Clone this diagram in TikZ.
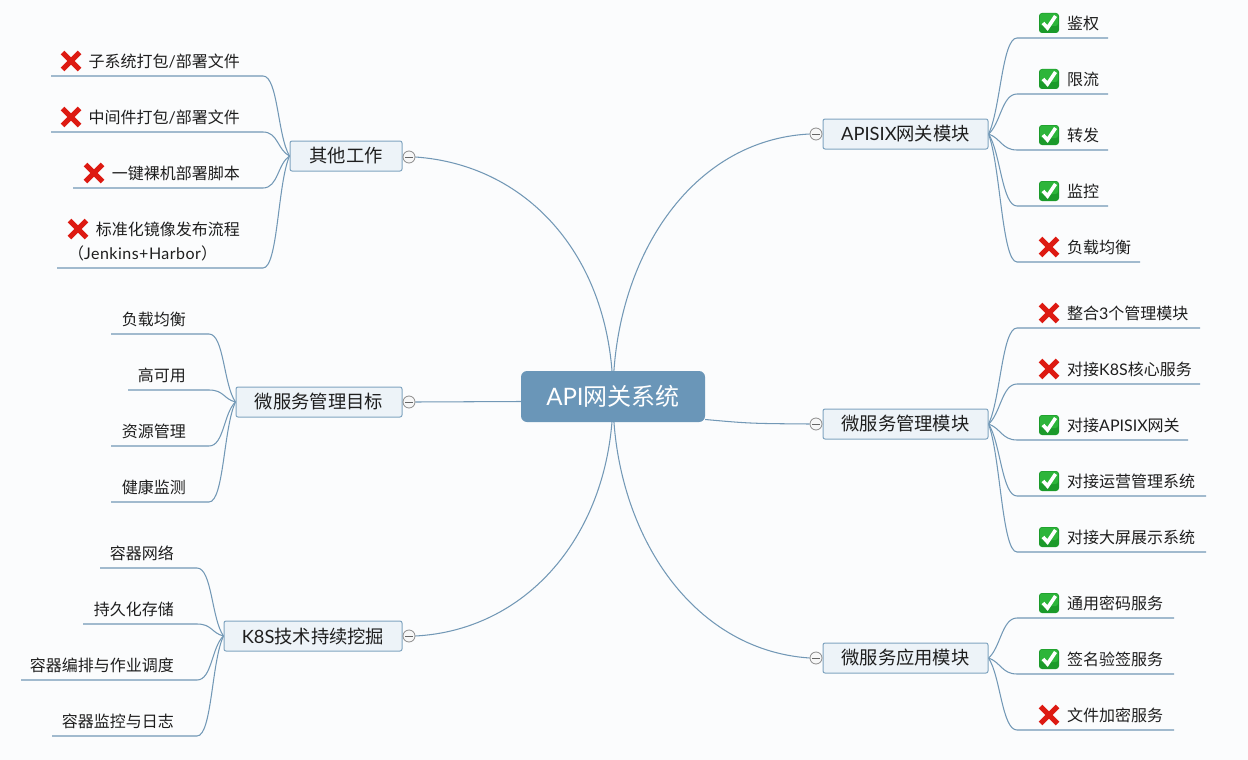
\documentclass[tikz,border=0pt]{standalone}
\usepackage{fontspec}
\setmainfont{Lato}
\newfontfamily\cjk{Noto Sans CJK SC}
\newfontfamily\widelat[LetterSpace=3]{Lato}
\usetikzlibrary{calc}
\pgfdeclarelayer{canvaslayer}
\pgfdeclarelayer{connlayer}
\pgfsetlayers{canvaslayer,connlayer,main}
\definecolor{linkc}{HTML}{7298B6}
\definecolor{boxfill}{HTML}{EDF3F8}
\definecolor{boxline}{HTML}{7FA4C0}
\definecolor{hubfill}{HTML}{6A96B8}
\definecolor{pagec}{HTML}{FBFCFD}
\definecolor{inkc}{HTML}{1E1E1E}
\definecolor{okdark}{HTML}{1B9A2A}
\definecolor{oklight}{HTML}{2DB53A}
\definecolor{nored}{HTML}{DD1A12}
\newcommand{\C}[1]{{\cjk #1}}
\newcommand{\B}[1]{\raisebox{-1.3pt}{#1}}
\tikzset{
  link/.style={draw=linkc,line width=1.05pt},
  hubnode/.style={fill=hubfill,rounded corners=6pt,text=white,inner sep=0pt,font=\fontsize{24}{28}\selectfont},
  branch/.style={draw=boxline,fill=boxfill,rounded corners=2pt,line width=1pt,text=inkc,inner sep=0pt,font=\fontsize{18.3}{22}\selectfont},
  fold/.style={circle,draw=black!45,fill=black!3,line width=0.8pt,minimum size=12pt,inner sep=0pt,
    path picture={\draw[black!60,line width=0.8pt] ([xshift=2pt]path picture bounding box.west)--([xshift=-2pt]path picture bounding box.east);}},
  leaftext/.style={inner sep=0pt,text=inkc,text height=0.88em,text depth=0.12em,yshift=-2.4pt,font=\fontsize{16}{18}\selectfont},
  okmark/.pic={
    \fill[okdark,rounded corners=3pt] (-10,-10) rectangle (10,10);
    \fill[oklight,rounded corners=2.5pt] (-9,-9.5) rectangle (9,3);
    \draw[white,line width=3.6pt,line cap=butt,line join=miter] (-6,0) -- (-1.5,5) -- (6.5,-7);
  },
  nomark/.pic={
    \draw[nored,line width=5pt] (-8.5,-8.5) -- (8.5,8.5);
    \draw[nored,line width=5pt] (-8.5,8.5) -- (8.5,-8.5);
  }
}
% id, source node, side sign, curve end x, free end x, line y
\newcommand{\leafrule}[6]{%
  \coordinate (#1a) at (#4,#6);
  \coordinate (#1b) at (#5,#6);
  \begin{pgfonlayer}{connlayer}
  \draw[link] let \p1=(#2),\p2=(#1a) in (\p1) .. controls ({\x1+#3*12pt},{\y1+0.25*(\y2-\y1)}) and ({\x2-#3*15pt},\y2) .. (\p2) -- (#1b);
  \end{pgfonlayer}}
% id, source, end x, line y, text, icon
\newcommand{\rightleaf}[6]{%
  \leafrule{#1}{#2}{1}{1017}{#3}{#4}
  \node[leaftext,anchor=west] (#1t) at (1067,#4-15) {#5};
  \pic at (1049,#4-15) {#6};}
\begin{document}
\begin{tikzpicture}[x=1pt,y=-1pt]
\useasboundingbox (0,0) rectangle (1248,760);
\begin{pgfonlayer}{canvaslayer}
\fill[pagec] (0,0) rectangle (1248,760);
\end{pgfonlayer}

\node[hubnode,minimum width=184pt,minimum height=51pt] (hub) at (613,396.5) {\B{API\C{网关系统}}};

\node[branch,minimum width=112pt,minimum height=30pt] (oth) at (346,156) {\B{\C{其他工作}}};
\node[branch,minimum width=166pt,minimum height=30pt] (goal) at (319,402) {\B{\C{微服务管理目标}}};
\node[branch,minimum width=178pt,minimum height=30pt] (ksd) at (313,636) {\B{K8S\C{技术持续挖掘}}};
\node[branch,minimum width=165pt,minimum height=30pt] (gw) at (905.5,134) {\B{APISIX\C{网关模块}}};
\node[branch,minimum width=165pt,minimum height=30pt] (mgr) at (905.5,424) {\B{\C{微服务管理模块}}};
\node[branch,minimum width=165pt,minimum height=30pt] (app) at (905.5,658) {\B{\C{微服务应用模块}}};

\node[fold] (foth) at (409,157) {};
\node[fold] (fgoal) at (409,402) {};
\node[fold] (fksd) at (409,636) {};
\node[fold] (fgw) at (816,134) {};
\node[fold] (fmgr) at (816,424) {};
\node[fold] (fapp) at (816,658) {};

\begin{pgfonlayer}{connlayer}
\draw[link] (hub.center) .. controls (613,260) and (530,165) .. (foth.east);
\draw[link] (hub.center) .. controls (613,260) and (690,140) .. (fgw.west);
\draw[link] (hub.center) .. controls (613,530) and (530,630) .. (fksd.east);
\draw[link] (hub.center) .. controls (613,530) and (690,650) .. (fapp.west);
\draw[link] ([yshift=-5pt]hub.west) -- (fgoal.east);
\draw[link] ([yshift=-23pt]hub.east) .. controls (750,423.5) .. (fmgr.west);
\end{pgfonlayer}

% right: gateway
\rightleaf{a}{gw.east}{1108}{38}{\C{鉴权}}{okmark}
\rightleaf{b}{gw.east}{1108}{94}{\C{限流}}{okmark}
\rightleaf{c}{gw.east}{1108}{150}{\C{转发}}{okmark}
\rightleaf{d}{gw.east}{1108}{206}{\C{监控}}{okmark}
\rightleaf{e}{gw.east}{1140}{262}{\C{负载均衡}}{nomark}
% right: management
\rightleaf{f}{mgr.east}{1200}{328}{\C{整合}3\C{个管理模块}}{nomark}
\rightleaf{g}{mgr.east}{1200}{384}{\C{对接}K8S\C{核心服务}}{nomark}
\rightleaf{h}{mgr.east}{1188}{440}{\C{对接}APISIX\C{网关}}{okmark}
\rightleaf{i}{mgr.east}{1206}{496}{\C{对接运营管理系统}}{okmark}
\rightleaf{j}{mgr.east}{1206}{552}{\C{对接大屏展示系统}}{okmark}
% right: application
\rightleaf{k}{app.east}{1174}{618}{\C{通用密码服务}}{okmark}
\rightleaf{l}{app.east}{1174}{674}{\C{签名验签服务}}{okmark}
\rightleaf{m}{app.east}{1174}{730}{\C{文件加密服务}}{nomark}

% left: other work
\leafrule{n}{oth.west}{-1}{263}{51}{76}
\node[leaftext,anchor=east] (nt) at (240,61) {\C{子系统打包}/\C{部署文件}};
\pic at (71,61) {nomark};
\leafrule{o}{oth.west}{-1}{263}{51}{132}
\node[leaftext,anchor=east] (ot) at (240,117) {\C{中间件打包}/\C{部署文件}};
\pic at (71,117) {nomark};
\leafrule{p}{oth.west}{-1}{263}{73}{188}
\node[leaftext,anchor=east] (pt) at (240,173) {\C{一键裸机部署脚本}};
\pic at (94,173) {nomark};
\leafrule{q}{oth.west}{-1}{263}{57}{268}
\node[leaftext,anchor=east] (qt) at (240,229) {\C{标准化镜像发布流程}};
\node[leaftext,anchor=west] (qu) at (68,253) {\C{（}{\widelat Jenkins+Harbor}\C{）}};
\pic at (78,229) {nomark};

% left: goals
\leafrule{r}{goal.west}{-1}{209}{111}{334}
\node[leaftext,anchor=east] (rt) at (186,319) {\C{负载均衡}};
\leafrule{s}{goal.west}{-1}{209}{128}{390}
\node[leaftext,anchor=east] (st) at (186,375) {\C{高可用}};
\leafrule{t}{goal.west}{-1}{209}{111}{446}
\node[leaftext,anchor=east] (tt) at (186,431) {\C{资源管理}};
\leafrule{u}{goal.west}{-1}{209}{111}{502}
\node[leaftext,anchor=east] (ut) at (186,487) {\C{健康监测}};

% left: k8s
\leafrule{v}{ksd.west}{-1}{197}{100}{568}
\node[leaftext,anchor=east] (vt) at (174,553) {\C{容器网络}};
\leafrule{w}{ksd.west}{-1}{197}{83}{624}
\node[leaftext,anchor=east] (wt) at (174,609) {\C{持久化存储}};
\leafrule{x}{ksd.west}{-1}{197}{21}{680}
\node[leaftext,anchor=east] (xt) at (174,665) {\C{容器编排与作业调度}};
\leafrule{y}{ksd.west}{-1}{197}{52}{736}
\node[leaftext,anchor=east] (yt) at (174,721) {\C{容器监控与日志}};
\end{tikzpicture}
\end{document}
